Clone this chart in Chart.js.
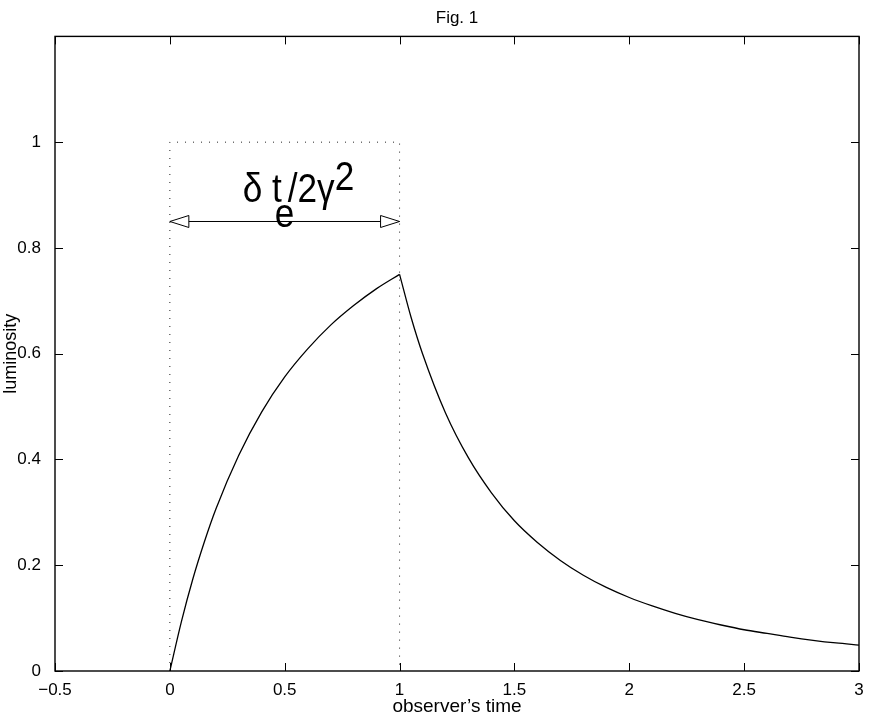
<!DOCTYPE html>
<html>
<head>
<meta charset="utf-8">
<script src="https://cdn.jsdelivr.net/npm/chart.js@4.4.0/dist/chart.umd.min.js"></script>
<style>
  html,body{margin:0;padding:0;background:#fff;}
  #wrap{width:872px;height:719px;}
</style>
</head>
<body>
<div id="wrap"><canvas id="fig" width="872" height="719"></canvas></div>
<script>
// Fig. 1 — luminosity vs observer's time (rise during emission, then decay)

const FONT='"Liberation Sans", Arial, Helvetica, sans-serif';

// rising part, 0 <= t <= 1
const riseTime=[0,0.05,0.1,0.15,0.2,0.3,0.4,0.5,0.6,0.7,0.8,0.9,1.0];
const riseLum =[0,0.093,0.174,0.244,0.306,0.408,0.490,0.556,0.609,0.654,0.691,0.723,0.750];
// decaying part, 1 <= t <= 3
const decayTime=[1.0,1.05,1.1,1.2,1.3,1.4,1.5,1.6,1.7,1.8,1.9,2.0,2.1,2.2,2.3,2.4,2.5,2.6,2.7,2.8,2.9,3.0];
const decayLum =[0.750,0.669,0.600,0.488,0.403,0.337,0.284,0.243,0.209,0.181,0.158,0.139,0.123,0.109,0.097,0.087,0.078,0.071,0.064,0.058,0.053,0.049];
// dotted window of width dt_e/2gamma^2
const boxTime=[0,0,1,1];
const boxLum =[0,1,1,0];
// double arrow
const arrowTime=[0,1];
const arrowLum =[0.85,0.85];
// label anchor (left edge of the delta, main baseline)
const labelTime=0.317, labelLum=0.887;

const xTicks=[-0.5,0,0.5,1,1.5,2,2.5,3];
const yTicks=[0,0.2,0.4,0.6,0.8,1];

function pts(xs,ys){return xs.map((x,i)=>({x,y:ys[i]}));}
function fmt(v){const s=String(Number(v.toFixed(2)));return v<0?'\u2212'+s.slice(1):s;}

// inward ticks on all four sides + full box
const frame={
  id:'frame',
  afterDraw(chart){
    const {ctx,chartArea:a,scales:{x,y}}=chart;
    ctx.save();
    ctx.strokeStyle='#000';ctx.lineWidth=1;
    ctx.beginPath();
    xTicks.forEach(v=>{
      const px=Math.round(x.getPixelForValue(v))+0.5;
      ctx.moveTo(px,a.bottom);ctx.lineTo(px,a.bottom-8);
      ctx.moveTo(px,a.top);ctx.lineTo(px,a.top+8);
    });
    yTicks.forEach(v=>{
      const py=Math.round(y.getPixelForValue(v))+0.5;
      ctx.moveTo(a.left,py);ctx.lineTo(a.left+8,py);
      ctx.moveTo(a.right,py);ctx.lineTo(a.right-8,py);
    });
    ctx.stroke();
    ctx.lineWidth=1.4;
    ctx.strokeRect(a.left,a.top,a.right-a.left,a.bottom-a.top);
    ctx.restore();
  }
};

// open arrow heads + the TeX-like label
const annot={
  id:'annot',
  afterDatasetsDraw(chart){
    const {ctx,scales:{x,y}}=chart;
    ctx.save();
    const ay=y.getPixelForValue(arrowLum[0]);
    const head=(tip,dir)=>{
      ctx.beginPath();
      ctx.moveTo(tip,ay);
      ctx.lineTo(tip+dir*19,ay-6);
      ctx.lineTo(tip+dir*19,ay+6);
      ctx.closePath();
      ctx.fillStyle='#fff';ctx.fill();
      ctx.strokeStyle='#000';ctx.lineWidth=1;ctx.stroke();
    };
    head(x.getPixelForValue(arrowTime[0]),1);
    head(x.getPixelForValue(arrowTime[1]),-1);

    const lx=x.getPixelForValue(labelTime), ly=y.getPixelForValue(labelLum);
    ctx.fillStyle='#000';
    ctx.font='40px '+FONT;
    ctx.textBaseline='alphabetic';ctx.textAlign='left';
    const put=(s,dx,dy)=>{
      ctx.save();ctx.translate(lx+dx,ly+dy);ctx.scale(0.88,1);ctx.fillText(s,0,0);ctx.restore();
    };
    put('\u03b4 t',0,0);
    put('e',32,25);
    put('/2\u03b3',45,0);
    put('2',92,-12);
    ctx.restore();
  }
};

const line=(data,extra)=>Object.assign({data,borderColor:'#000',borderWidth:1.3,pointRadius:0,fill:false},extra);

new Chart(document.getElementById('fig'),{
  type:'line',
  data:{datasets:[
    line(pts(boxTime,boxLum),{borderWidth:1,borderColor:'#222',borderDash:[1,7],tension:0}),
    line(pts(arrowTime,arrowLum),{borderWidth:1,tension:0}),
    line(pts(riseTime,riseLum),{cubicInterpolationMode:'monotone'}),
    line(pts(decayTime,decayLum),{cubicInterpolationMode:'monotone'})
  ]},
  plugins:[frame,annot],
  options:{
    responsive:false,animation:false,
    layout:{padding:{top:0,right:13,bottom:0,left:0}},
    plugins:{
      legend:{display:false},tooltip:{enabled:false},
      title:{display:true,text:'Fig. 1',fullSize:false,color:'#000',
        font:{family:FONT,size:17,weight:'normal'},padding:{top:8,bottom:8}}
    },
    scales:{
      x:{type:'linear',min:-0.5,max:3,
        afterBuildTicks:s=>{s.ticks=xTicks.map(v=>({value:v}));},
        afterFit:s=>{s.height=48;},
        grid:{display:false},border:{display:false},
        ticks:{color:'#000',font:{family:FONT,size:17},padding:1,maxRotation:0,autoSkip:false,callback:v=>fmt(v)},
        title:{display:true,text:'observer\u2019s time',color:'#000',font:{family:FONT,size:19},padding:{top:0,bottom:1}}
      },
      y:{type:'linear',min:0,max:1.2,
        afterBuildTicks:s=>{s.ticks=yTicks.map(v=>({value:v}));},
        afterFit:s=>{s.width=55;},
        grid:{display:false},border:{display:false},
        ticks:{color:'#000',font:{family:FONT,size:17},padding:6,callback:v=>fmt(v)},
        title:{display:true,text:'luminosity',color:'#000',font:{family:FONT,size:18},padding:{top:0,bottom:0}}
      }
    }
  }
});
</script>
</body>
</html>
